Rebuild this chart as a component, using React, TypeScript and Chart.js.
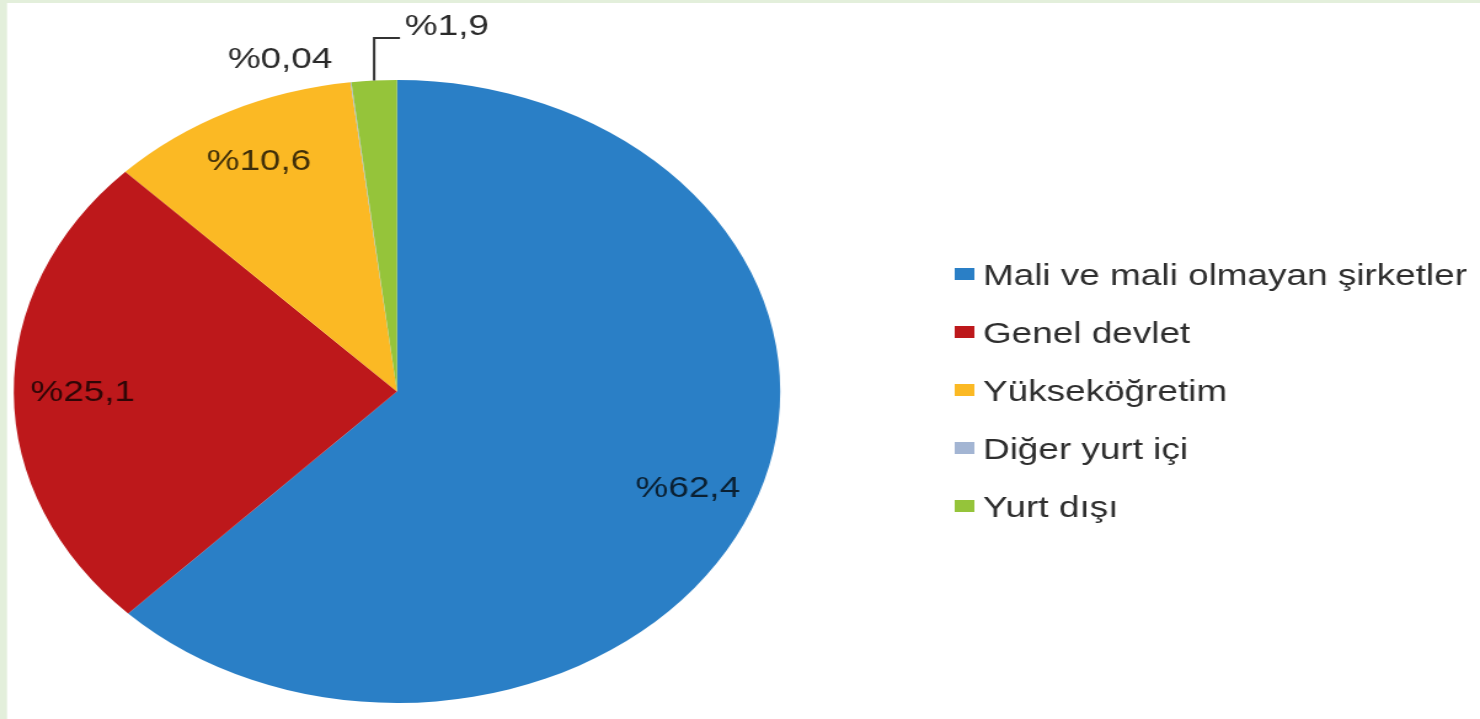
import React, { useEffect, useRef } from "react";
import { Chart, registerables } from "chart.js";

Chart.register(...registerables);

// ---- data ----
const categories = [
  "Mali ve mali olmayan şirketler",
  "Genel devlet",
  "Yükseköğretim",
  "Diğer yurt içi",
  "Yurt dışı",
];
const shares = [62.4, 25.1, 10.6, 0.04, 1.9];
const valueLabels = ["%62,4", "%25,1", "%10,6", "%0,04", "%1,9"];
const colors = ["#2a7fc6", "#bd181b", "#fbb924", "#a3b5d3", "#95c43a"];

// ---- layout (page is 1480x719; the picture is stretched horizontally) ----
const W = 1480;
const H = 719;
const SX = 1.2303;
const CW = Math.round(W / SX);

const FONT = "'Liberation Sans', Arial, sans-serif";

const decor = {
  id: "decor",
  beforeDraw(chart: any) {
    const ctx = chart.ctx;
    ctx.save();
    ctx.fillStyle = "#ffffff";
    ctx.fillRect(0, 0, chart.width, chart.height);
    ctx.fillStyle = "#e3efdb";
    ctx.fillRect(0, 0, 7 / SX, chart.height);
    ctx.fillRect(0, 0, chart.width, 3);
    ctx.restore();
  },
  afterDatasetsDraw(chart: any) {
    const meta = chart.getDatasetMeta(0);
    const ctx = chart.ctx;
    ctx.save();
    ctx.font = `30px ${FONT}`;
    ctx.textAlign = "center";
    ctx.textBaseline = "middle";
    meta.data.forEach((arc: any, i: number) => {
      const { x, y, startAngle, endAngle, outerRadius } = arc.getProps(
        ["x", "y", "startAngle", "endAngle", "outerRadius"],
        true
      );
      const mid = (startAngle + endAngle) / 2;
      if (shares[i] >= 5) {
        ctx.fillStyle = "rgba(0,0,0,0.75)";
        ctx.fillText(
          valueLabels[i],
          x + Math.cos(mid) * outerRadius * 0.82,
          y + Math.sin(mid) * outerRadius * 0.82
        );
      } else if (shares[i] < 1) {
        ctx.fillStyle = "#2a2a2a";
        ctx.fillText(valueLabels[i], x - 95, y - outerRadius - 20);
      } else {
        const px = x + Math.cos(mid) * outerRadius;
        const py = y + Math.sin(mid) * outerRadius;
        const ly = y - outerRadius - 42;
        ctx.strokeStyle = "#333333";
        ctx.lineWidth = 2;
        ctx.beginPath();
        ctx.moveTo(px, py);
        ctx.lineTo(px, ly);
        ctx.lineTo(px + 21, ly);
        ctx.stroke();
        ctx.fillStyle = "#2a2a2a";
        ctx.textAlign = "left";
        ctx.fillText(valueLabels[i], px + 25, ly - 11);
        ctx.textAlign = "center";
      }
    });
    ctx.restore();
  },
  afterDraw(chart: any) {
    const ctx = chart.ctx;
    ctx.save();
    ctx.font = `30px ${FONT}`;
    ctx.textBaseline = "middle";
    ctx.textAlign = "left";
    categories.forEach((c, i) => {
      const yy = 275 + i * 58;
      ctx.fillStyle = colors[i];
      ctx.fillRect(776, yy - 7, 16, 12);
      ctx.fillStyle = "#2e2e2e";
      ctx.fillText(c, 799, yy + 2);
    });
    ctx.restore();
  },
};

export default function App() {
  const ref = useRef<HTMLCanvasElement | null>(null);
  useEffect(() => {
    if (!ref.current) return;
    const cx = 397 / SX;
    const r = 311.5;
    const chart = new Chart(ref.current, {
      type: "pie",
      data: {
        labels: categories,
        datasets: [
          {
            data: shares,
            backgroundColor: colors,
            borderWidth: 0,
            hoverOffset: 0,
          },
        ],
      },
      options: {
        responsive: false,
        maintainAspectRatio: false,
        devicePixelRatio: 1,
        animation: false,
        layout: {
          padding: {
            left: cx - r,
            top: 80,
            right: CW - (cx + r),
            bottom: H - 80 - 2 * r,
          },
        },
        plugins: {
          legend: { display: false },
          tooltip: { enabled: false },
        },
      },
      plugins: [decor],
    });
    return () => chart.destroy();
  }, []);
  return (
    <div style={{ position: "fixed", left: 0, top: 0, width: W, height: H, background: "#fff" }}>
      <canvas ref={ref} width={CW} height={H} style={{ width: W, height: H, display: "block" }} />
    </div>
  );
}
